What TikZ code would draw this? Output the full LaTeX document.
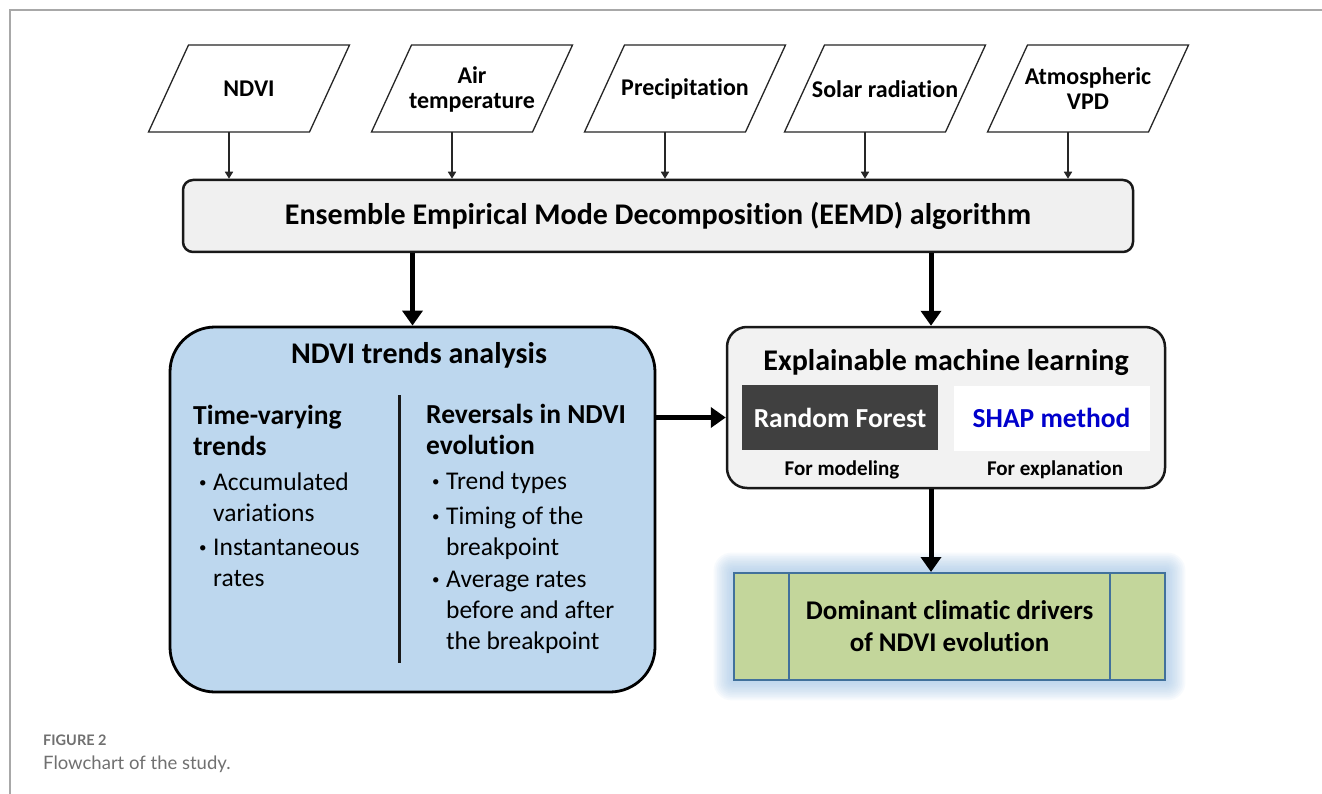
\documentclass[tikz,border=0pt]{standalone}
\usepackage{fontspec}
\setmainfont{Carlito}[Ligatures=NoCommon]
\newfontfamily\capfont{Lato}
\usetikzlibrary{arrows.meta}
\definecolor{eemdfill}{HTML}{F0F0F0}
\definecolor{ndvifill}{HTML}{BDD7EE}
\definecolor{mlfill}{HTML}{F2F2F2}
\definecolor{rffill}{HTML}{404040}
\definecolor{shapblue}{HTML}{0000CC}
\definecolor{greenfill}{HTML}{C3D69B}
\definecolor{greenline}{HTML}{41719C}
\definecolor{glowblue}{HTML}{9DC3E6}
\definecolor{capgray}{HTML}{707070}
\definecolor{framegray}{HTML}{A8A8A8}
\newcommand\parabox[3]{%
  \draw[para] (#2-60.5,45) -- (#2+100.5,45) -- (#2+60.5,132) -- (#2-100.5,132) -- cycle;
  \node[ptext] (#1) at (#2,89) {#3};
  \coordinate (#1b) at (#2-20,132);}
\newcommand\bul{\hspace*{6pt}\makebox[14pt][l]{\raisebox{3pt}{\fontsize{15}{15}\selectfont •}}}
\newcommand\cont{\hspace*{20pt}}
\begin{document}
\begin{tikzpicture}[x=1pt,y=-1pt,
  para/.style={draw=black!85, line width=1.3pt, fill=white},
  ptext/.style={font=\bfseries\fontsize{24}{25}\selectfont, align=center, inner sep=0pt},
  thinarrow/.style={draw=black!85, line width=1.6pt, -{Triangle[width=8pt,length=7pt]}},
  thickarrow/.style={line width=5pt, -{Triangle[width=20pt,length=15pt]}},
  eemdbox/.style={draw=black!90, line width=2.5pt, fill=eemdfill, rounded corners=10pt,
    minimum width=950pt, minimum height=72pt, inner sep=0pt,
    font=\bfseries\fontsize{30}{30}\selectfont},
  ndvibox/.style={draw=black, line width=2.8pt, fill=ndvifill, rounded corners=45pt,
    minimum width=485pt, minimum height=365pt, inner sep=0pt},
  mlbox/.style={draw=black!90, line width=2.5pt, fill=mlfill, rounded corners=20pt,
    minimum width=438pt, minimum height=161pt, inner sep=0pt},
  title/.style={font=\bfseries\fontsize{30}{30}\selectfont, inner sep=0pt},
  coltext/.style={anchor=north west, align=left, inner sep=0pt, font=\fontsize{25.5}{31}\selectfont},
  subbox/.style={minimum width=196pt, minimum height=65pt, inner sep=0pt,
    font=\bfseries\fontsize{27.5}{28}\selectfont},
  note/.style={font=\bfseries\fontsize{21}{21}\selectfont, inner sep=0pt},
  greenbox/.style={draw=greenline, line width=2pt, fill=greenfill,
    minimum width=431pt, minimum height=107pt, inner sep=0pt, align=center,
    font=\bfseries\fontsize{27}{32}\selectfont}
]
\useasboundingbox (0,0) rectangle (1322,794);
\fill[white] (0,0) rectangle (1322,794);
\draw[framegray, line width=1.4pt] (10,794) -- (10,10) -- (1322,10);

% inputs
\parabox{in1}{249}{NDVI}
\parabox{in2}{472}{Air\\temperature}
\parabox{in3}{685}{Precipitation}
\parabox{in4}{885}{Solar radiation}
\parabox{in5}{1088}{Atmospheric\\VPD}

\node[eemdbox] (eemd) at (658,216) {Ensemble Empirical Mode Decomposition (EEMD) algorithm};

\foreach \k in {1,...,5}{
  \draw[thinarrow] (in\k b) -- (in\k b |- eemd.north);
}

% NDVI trends analysis
\node[ndvibox] (ndvi) at (412.5,509.5) {};
\node[title] (ndvititle) at (419,355) {NDVI trends analysis};
\node[coltext] (colL) at (193,405) {%
  {\bfseries\fontsize{27.5}{31}\selectfont Time-varying}\\
  {\bfseries\fontsize{27.5}{31}\selectfont trends}\\[4pt]
  \bul Accumulated\\
  \cont variations\\[3pt]
  \bul Instantaneous\\
  \cont rates};
\node[coltext] (colR) at (426,404) {%
  {\bfseries\fontsize{27.5}{31}\selectfont Reversals in NDVI}\\
  {\bfseries\fontsize{27.5}{31}\selectfont evolution}\\[4pt]
  \bul Trend types\\[4pt]
  \bul Timing of the\\
  \cont breakpoint\\[1pt]
  \bul Average rates\\
  \cont before and after\\
  \cont the breakpoint};
\coordinate (divtop) at (399,395);
\coordinate (divbot) at (399,663);
\draw[line width=3pt, black!90] (divtop) -- (divbot);

% Explainable ML
\node[mlbox] (ml) at (946,407.5) {};
\coordinate (mlin) at ([xshift=-15pt]ml.north);
\coordinate (mlout) at ([xshift=-15pt]ml.south);
\node[title] (mltitle) at (946,363) {Explainable machine learning};
\node[subbox, fill=rffill, text=white] (rf) at (840,417.5) {Random Forest};
\node[subbox, fill=white, text=shapblue] (shap) at (1051.5,418) {SHAP method};
\node[note] (rfnote) at (842,470) {For modeling};
\node[note] (shapnote) at (1055,470) {For explanation};

% glow + green box
\foreach \i in {1,...,12}{
  \fill[glowblue, opacity=0.075, rounded corners=\i*1.5pt]
    (734-\i*1.7,573-\i*1.7) rectangle (1165+\i*1.7,680+\i*1.7);
}
\node[greenbox] (green) at (949.5,626.5) {Dominant climatic drivers\\of NDVI evolution};
\draw[greenline, line width=2pt] ([xshift=-160.5pt]green.north) -- ([xshift=-160.5pt]green.south);
\draw[greenline, line width=2pt] ([xshift=160.5pt]green.north) -- ([xshift=160.5pt]green.south);

% thick arrows
\draw[thickarrow] (eemd.south -| ndvi.north) -- (ndvi.north);
\draw[thickarrow] (eemd.south -| mlin) -- (mlin);
\draw[thickarrow] (ndvi.east |- rf.west) -- (ml.west |- rf.west);
\draw[thickarrow] (mlout) -- (mlout |- green.north);

% caption
\node[anchor=west, inner sep=0pt, text=capgray, font=\capfont\bfseries\fontsize{14.5}{14.5}\selectfont] (fig) at (43,740) {FIGURE 2};
\node[anchor=west, inner sep=0pt, text=capgray, font=\capfont\fontsize{18.5}{18.5}\selectfont] (cap) at (43,764) {Flowchart of the study.};
\end{tikzpicture}
\end{document}
